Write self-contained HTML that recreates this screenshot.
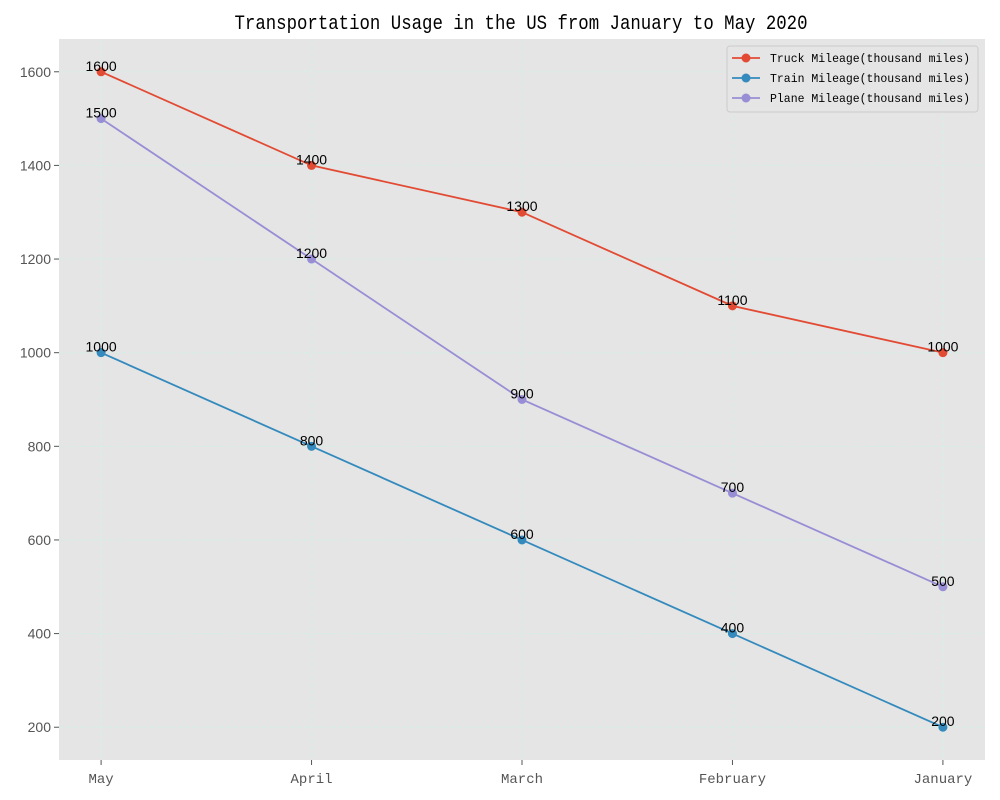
<!DOCTYPE html>
<html><head><meta charset="utf-8"><style>body{margin:0;background:#fff}svg{display:block}</style></head>
<body>
<svg id="chart" width="1000" height="800" xmlns="http://www.w3.org/2000/svg" font-family="Liberation Mono, monospace">
<rect width="1000" height="800" fill="#fff"/>
<text x="521" y="29" text-anchor="middle" font-size="20" textLength="573" lengthAdjust="spacingAndGlyphs" fill="#000">Transportation Usage in the US from January to May 2020</text>
<rect x="59" y="39" width="926" height="721" fill="#E5E5E5"/>
<g id="grid"></g><g id="axes"></g><g id="series"></g>
<g>
<rect x="727" y="46" width="251" height="66" rx="3" fill="#E5E5E5" stroke="#ccc" stroke-width="1"/>
<g id="legend-items"></g>
</g>
</svg>
<script>
const categories = ["May","April","March","February","January"];
const truck = [1600,1400,1300,1100,1000];
const train = [1000,800,600,400,200];
const plane = [1500,1200,900,700,500];
const yTicks = [200,400,600,800,1000,1200,1400,1600];
const seriesNames = ["Truck Mileage(thousand miles)","Train Mileage(thousand miles)","Plane Mileage(thousand miles)"];

const NS="http://www.w3.org/2000/svg";
const L=59,R=985,T=39,B=760;
const all=truck.concat(train,plane);
const mn=Math.min(...all),mx=Math.max(...all),pad=(mx-mn)*0.05;
const y0=mn-pad,y1=mx+pad;
const xs=i=>L+(i+0.2)/(categories.length-1+0.4)*(R-L);
const ys=v=>B-(v-y0)/(y1-y0)*(B-T);
function mk(t,a,p){const e=document.createElementNS(NS,t);for(const k in a)e.setAttribute(k,a[k]);(p||document.getElementById('chart')).appendChild(e);return e;}
const grid=document.getElementById('grid'),axes=document.getElementById('axes'),ser=document.getElementById('series');
yTicks.forEach(v=>{
  const g=mk('line',{x1:L,x2:R,y1:ys(v),y2:ys(v),stroke:'#d4f0e6','stroke-dasharray':'4,3'},grid);
  
  
  mk('line',{x1:L-5,x2:L,y1:ys(v),y2:ys(v),stroke:'#555'},axes);
  const t=mk('text',{x:L-8,y:ys(v)+5,'text-anchor':'end','font-size':14,fill:'#555','font-family':'Liberation Sans, sans-serif'},axes);
  t.textContent=v;
  
  
});
categories.forEach((c,i)=>{
  const g=mk('line',{x1:xs(i),x2:xs(i),y1:T,y2:B,stroke:'#d4f0e6','stroke-dasharray':'4,3'},grid);
  
  
  mk('line',{x1:xs(i),x2:xs(i),y1:B,y2:B+5,stroke:'#555'},axes);
  const t=mk('text',{x:xs(i),y:B+23,'text-anchor':'middle','font-size':14,fill:'#555'},axes);
  t.textContent=c;
  
  
});
const colors=["#E24A33","#348ABD","#988ED5"];
[truck,train,plane].forEach((d,s)=>{
  const p=mk('polyline',{points:d.map((v,i)=>xs(i)+','+ys(v)).join(' '),fill:'none',stroke:colors[s],'stroke-width':1.8},ser);
  
  
  d.forEach((v,i)=>{
    const c=mk('circle',{cx:xs(i),cy:ys(v),r:4.5,fill:colors[s]},ser);
    
    
    const t=mk('text',{x:xs(i),y:ys(v)-1,'text-anchor':'middle','font-size':14,fill:'#000','font-family':'Liberation Sans, sans-serif'},ser);
    t.textContent=v;
    
    
  });
});
const li=document.getElementById('legend-items');
seriesNames.forEach((n,s)=>{
  const y=58+s*20;
  mk('line',{x1:732,x2:760,y1:y,y2:y,stroke:colors[s],'stroke-width':1.8},li);
  mk('circle',{cx:746,cy:y,r:4.5,fill:colors[s]},li);
  const t=mk('text',{x:770,y:y+4,'font-size':12,fill:'#000',textLength:200,lengthAdjust:'spacingAndGlyphs'},li);
  t.textContent=n;
  
  
});
</script>
</body></html>
